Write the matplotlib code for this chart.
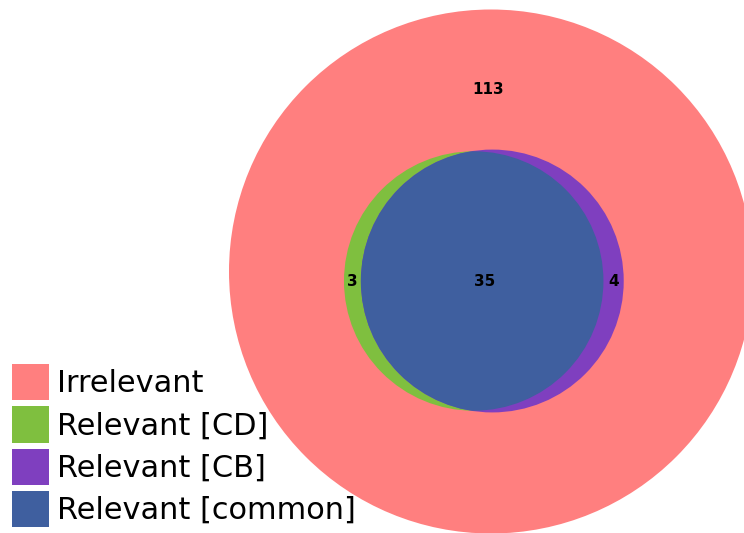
import numpy as np
import matplotlib
matplotlib.use("Agg")
import matplotlib.pyplot as plt
from matplotlib.patches import Circle, Patch

# ---- data ----
labels = ["Irrelevant", "Relevant [CD]", "Relevant [CB]", "Relevant [common]"]
only_cd = 3
only_cb = 4
common = 35
irrelevant = 113
colors = ["#FF7F7F", "#7FBF3F", "#7F3FBF", "#3F5F9F"]

total = irrelevant + only_cd + only_cb + common
cd_total = only_cd + common
cb_total = only_cb + common

# ---- geometry (area proportional) ----
R = 262.0
big_c = (491.0, 271.5)
r_cd = R * np.sqrt(cd_total / total)
r_cb = R * np.sqrt(cb_total / total)
target = common / total * np.pi * R ** 2


def lens_area(d, r1, r2):
    if d >= r1 + r2:
        return 0.0
    if d <= abs(r1 - r2):
        return np.pi * min(r1, r2) ** 2
    a1 = r1 ** 2 * np.arccos((d ** 2 + r1 ** 2 - r2 ** 2) / (2 * d * r1))
    a2 = r2 ** 2 * np.arccos((d ** 2 + r2 ** 2 - r1 ** 2) / (2 * d * r2))
    a3 = 0.5 * np.sqrt((-d + r1 + r2) * (d + r1 - r2) * (d - r1 + r2) * (d + r1 + r2))
    return a1 + a2 - a3


lo, hi = abs(r_cd - r_cb), r_cd + r_cb
for _ in range(100):
    mid = 0.5 * (lo + hi)
    if lens_area(mid, r_cd, r_cb) > target:
        lo = mid
    else:
        hi = mid
d = 0.5 * (lo + hi)

pair_mid = (483.0, 281.0)
cd_c = (pair_mid[0] - d / 2, pair_mid[1])
cb_c = (pair_mid[0] + d / 2, pair_mid[1])

fig = plt.figure(figsize=(7.44, 5.33), dpi=100)
ax = fig.add_axes([0, 0, 1, 1])
ax.set_xlim(0, 744)
ax.set_ylim(533, 0)
ax.set_aspect("equal")
ax.axis("off")

ax.add_patch(Circle(big_c, R, facecolor=colors[0], edgecolor="none"))
ax.add_patch(Circle(cd_c, r_cd, facecolor=colors[1], edgecolor="none"))
cb_patch = Circle(cb_c, r_cb, facecolor=colors[2], edgecolor="none")
ax.add_patch(cb_patch)
inter = Circle(cd_c, r_cd, facecolor=colors[3], edgecolor="none")
ax.add_patch(inter)
inter.set_clip_path(cb_patch)

fs = 11
ax.text(488, 90, str(irrelevant), ha="center", va="center", fontsize=fs, fontweight="bold")
left_cd = cd_c[0] - r_cd
left_cb = cb_c[0] - r_cb
right_cd = cd_c[0] + r_cd
right_cb = cb_c[0] + r_cb
ax.text((left_cd + left_cb) / 2, 282, str(only_cd), ha="center", va="center", fontsize=fs, fontweight="bold")
ax.text((left_cb + right_cd) / 2 + 2.5, 282, str(common), ha="center", va="center", fontsize=fs, fontweight="bold")
ax.text((right_cd + right_cb) / 2, 282, str(only_cb), ha="center", va="center", fontsize=fs, fontweight="bold")

handles = [Patch(facecolor=c, edgecolor="none", label=l) for c, l in zip(colors, labels)]
fig.legend(handles=handles, loc="lower left", bbox_to_anchor=(6 / 744, 0),
           bbox_transform=fig.transFigure, frameon=False, fontsize=21.9,
           handlelength=1.22, handleheight=1.45, handletextpad=0.27,
           labelspacing=0.2, borderpad=0.2, borderaxespad=0)

fig.savefig("out.png", dpi=100)
